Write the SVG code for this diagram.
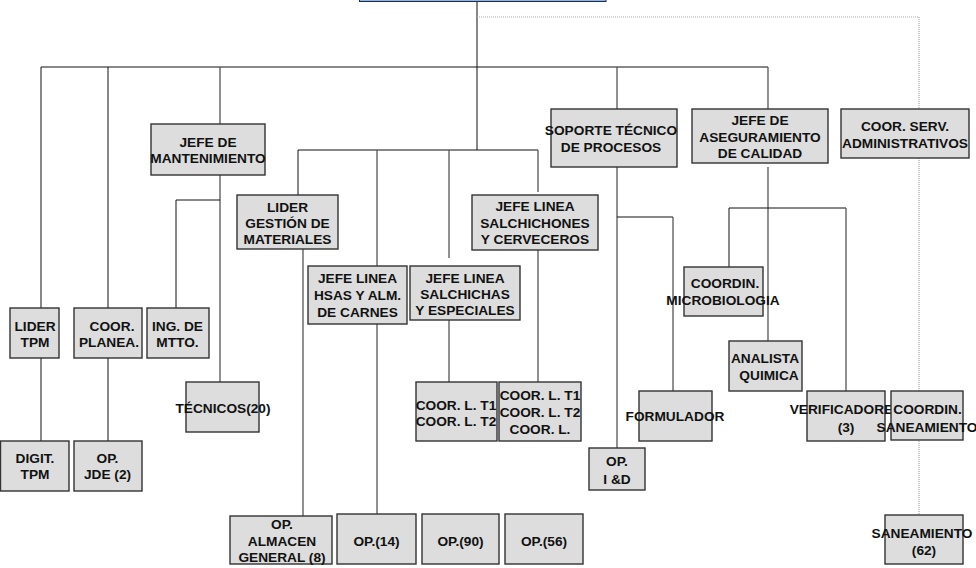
<svg xmlns="http://www.w3.org/2000/svg" width="976" height="568" viewBox="0 0 976 568">
  <style>
    .bx { fill: #dddddd; stroke: #333333; stroke-width: 1.4; }
    .t { font-family: "Liberation Sans", Arial, sans-serif; font-weight: bold; font-size: 13.7px; fill: #111111; text-anchor: middle; }
    .k { fill: none; stroke: #111111; stroke-width: 1; }
    .g { fill: none; stroke: #555555; stroke-width: 1.3; }
    .d { fill: none; stroke: #aaaaaa; stroke-width: 1.2; stroke-dasharray: 1 1; }
  </style>
  <rect width="976" height="568" fill="#ffffff"/>

  <!-- connectors -->
  <g id="connectors">
    <!-- top trunk and main bus -->
    <path class="k" d="M477 1.5V150"/>
    <path class="k" d="M41 67H768"/>
    <path class="k" d="M41 67V308M108 67V308"/>
    <path class="g" d="M220 67V124"/>
    <path class="g" d="M617 67V109"/>
    <path class="g" d="M768 67V109"/>
    <!-- staff line to administrative services -->
    <path class="d" d="M477 17H919V109M919 158V391M919 441V515"/>
    <!-- TPM and planning -->
    <path class="k" d="M41 358V441"/>
    <path class="k" d="M108 358V441"/>
    <!-- maintenance -->
    <path class="g" d="M220 175V382"/>
    <path class="k" d="M220 200H176V308"/>
    <!-- production bus -->
    <path class="k" d="M298 150H538"/>
    <path class="k" d="M298 150V195"/>
    <path class="g" d="M377 150V266"/>
    <path class="g" d="M449 150V258"/>
    <path class="g" d="M538 150V192"/>
    <path class="g" d="M303 249V516"/>
    <path class="g" d="M377 324V514"/>
    <path class="g" d="M449 320V382"/>
    <path class="g" d="M538 250V382"/>
    <!-- process support -->
    <path class="g" d="M617 167V448"/>
    <path class="k" d="M617 217H673"/>
    <path class="g" d="M673 217V391"/>
    <!-- quality -->
    <path class="g" d="M768 167V341"/>
    <path class="k" d="M729 267V208H846"/>
    <path class="g" d="M846 208V391"/>
  </g>

  <!-- nodes -->
  <g id="n-director">
    <rect x="359.5" y="-10" width="246.5" height="11.5" fill="#8fb4e3" stroke="#1e2e50" stroke-width="1"/>
  </g>

  <g id="n-jefe-mant">
    <rect class="bx" x="151" y="124" width="114" height="51"/>
    <text class="t" x="208" y="147">JEFE DE</text>
    <text class="t" x="208" y="163">MANTENIMIENTO</text>
  </g>

  <g id="n-soporte">
    <rect class="bx" x="551" y="109" width="126" height="58"/>
    <text class="t" x="611" y="135">SOPORTE TÉCNICO</text>
    <text class="t" x="611" y="152">DE PROCESOS</text>
  </g>

  <g id="n-jefe-calidad">
    <rect class="bx" x="692" y="109" width="136" height="54"/>
    <text class="t" x="760" y="125">JEFE DE</text>
    <text class="t" x="760" y="142">ASEGURAMIENTO</text>
    <text class="t" x="760" y="158">DE CALIDAD</text>
  </g>

  <g id="n-coor-serv">
    <rect class="bx" x="841" y="109" width="128" height="49"/>
    <text class="t" x="905" y="131">COOR. SERV.</text>
    <text class="t" x="905" y="148">ADMINISTRATIVOS</text>
  </g>

  <g id="n-lider-gestion">
    <rect class="bx" x="237" y="195" width="101" height="54"/>
    <text class="t" x="287.5" y="212">LIDER</text>
    <text class="t" x="287.5" y="228">GESTIÓN DE</text>
    <text class="t" x="287.5" y="244">MATERIALES</text>
  </g>

  <g id="n-jefe-salchichones">
    <rect class="bx" x="472" y="195" width="126" height="55"/>
    <text class="t" x="535" y="211">JEFE LINEA</text>
    <text class="t" x="535" y="228">SALCHICHONES</text>
    <text class="t" x="535" y="244">Y CERVECEROS</text>
  </g>

  <g id="n-jefe-hsas">
    <rect class="bx" x="308" y="266" width="99" height="58"/>
    <text class="t" x="357.5" y="283">JEFE LINEA</text>
    <text class="t" x="357.5" y="300">HSAS Y ALM.</text>
    <text class="t" x="357.5" y="317">DE CARNES</text>
  </g>

  <g id="n-jefe-salchichas">
    <rect class="bx" x="410" y="266" width="110" height="54"/>
    <text class="t" x="465" y="283">JEFE LINEA</text>
    <text class="t" x="465" y="298.5">SALCHICHAS</text>
    <text class="t" x="465" y="315">Y ESPECIALES</text>
  </g>

  <g id="n-coordin-micro">
    <rect class="bx" x="684" y="267" width="79" height="49"/>
    <text class="t" x="725" y="288">COORDIN.</text>
    <text class="t" x="723" y="305">MICROBIOLOGIA</text>
  </g>

  <g id="n-lider-tpm">
    <rect class="bx" x="10" y="308" width="49" height="50"/>
    <text class="t" x="35" y="331">LIDER</text>
    <text class="t" x="35" y="347">TPM</text>
  </g>

  <g id="n-coor-planea">
    <rect class="bx" x="74" y="308" width="68" height="50"/>
    <text class="t" x="112" y="331">COOR.</text>
    <text class="t" x="109" y="347">PLANEA.</text>
  </g>

  <g id="n-ing-mtto">
    <rect class="bx" x="147" y="308" width="62" height="50"/>
    <text class="t" x="177.5" y="331">ING. DE</text>
    <text class="t" x="177.5" y="347">MTTO.</text>
  </g>

  <g id="n-analista">
    <rect class="bx" x="729" y="341" width="73" height="50"/>
    <text class="t" x="765" y="363">ANALISTA</text>
    <text class="t" x="769" y="380">QUIMICA</text>
  </g>

  <g id="n-tecnicos">
    <rect class="bx" x="186" y="382" width="73" height="50"/>
    <text class="t" x="223" y="413">TÉCNICOS(20)</text>
  </g>

  <g id="n-coor-l-1">
    <rect class="bx" x="416" y="382" width="81" height="59"/>
    <text class="t" x="456" y="410">COOR. L. T1</text>
    <text class="t" x="456" y="426">COOR. L. T2</text>
  </g>

  <g id="n-coor-l-2">
    <rect class="bx" x="499" y="382" width="82" height="59"/>
    <text class="t" x="540" y="400">COOR. L. T1</text>
    <text class="t" x="540" y="417">COOR. L. T2</text>
    <text class="t" x="540" y="434">COOR. L.</text>
  </g>

  <g id="n-formulador">
    <rect class="bx" x="639" y="391" width="73" height="50"/>
    <text class="t" x="675" y="421">FORMULADOR</text>
  </g>

  <g id="n-verificadores">
    <rect class="bx" x="807" y="391" width="78" height="50"/>
    <text class="t" x="846" y="414">VERIFICADORES</text>
    <text class="t" x="846" y="432">(3)</text>
  </g>

  <g id="n-coordin-saneamiento">
    <rect class="bx" x="891" y="391" width="72" height="49"/>
    <text class="t" x="927.5" y="414">COORDIN.</text>
    <text class="t" x="927" y="432">SANEAMIENTO</text>
  </g>

  <g id="n-digit-tpm">
    <rect class="bx" x="0.5" y="441" width="68.5" height="50"/>
    <text class="t" x="35" y="463">DIGIT.</text>
    <text class="t" x="35" y="479">TPM</text>
  </g>

  <g id="n-op-jde">
    <rect class="bx" x="74" y="441" width="68" height="50"/>
    <text class="t" x="107.5" y="463">OP.</text>
    <text class="t" x="107.5" y="479">JDE (2)</text>
  </g>

  <g id="n-op-id">
    <rect class="bx" x="589" y="448" width="56" height="42"/>
    <text class="t" x="617" y="466">OP.</text>
    <text class="t" x="617" y="484">I &amp;D</text>
  </g>

  <g id="n-op-almacen">
    <rect class="bx" x="230" y="516" width="102" height="48"/>
    <text class="t" x="282" y="529">OP.</text>
    <text class="t" x="282" y="546">ALMACEN</text>
    <text class="t" x="282" y="562">GENERAL (8)</text>
  </g>

  <g id="n-op-14">
    <rect class="bx" x="337" y="514" width="79" height="50"/>
    <text class="t" x="376.5" y="546">OP.(14)</text>
  </g>

  <g id="n-op-90">
    <rect class="bx" x="422" y="514" width="77" height="50"/>
    <text class="t" x="460.5" y="546">OP.(90)</text>
  </g>

  <g id="n-op-56">
    <rect class="bx" x="505" y="514" width="78" height="50"/>
    <text class="t" x="544" y="546">OP.(56)</text>
  </g>

  <g id="n-saneamiento">
    <rect class="bx" x="885" y="515" width="78" height="49"/>
    <text class="t" x="922" y="538">SANEAMIENTO</text>
    <text class="t" x="924" y="555">(62)</text>
  </g>
</svg>
